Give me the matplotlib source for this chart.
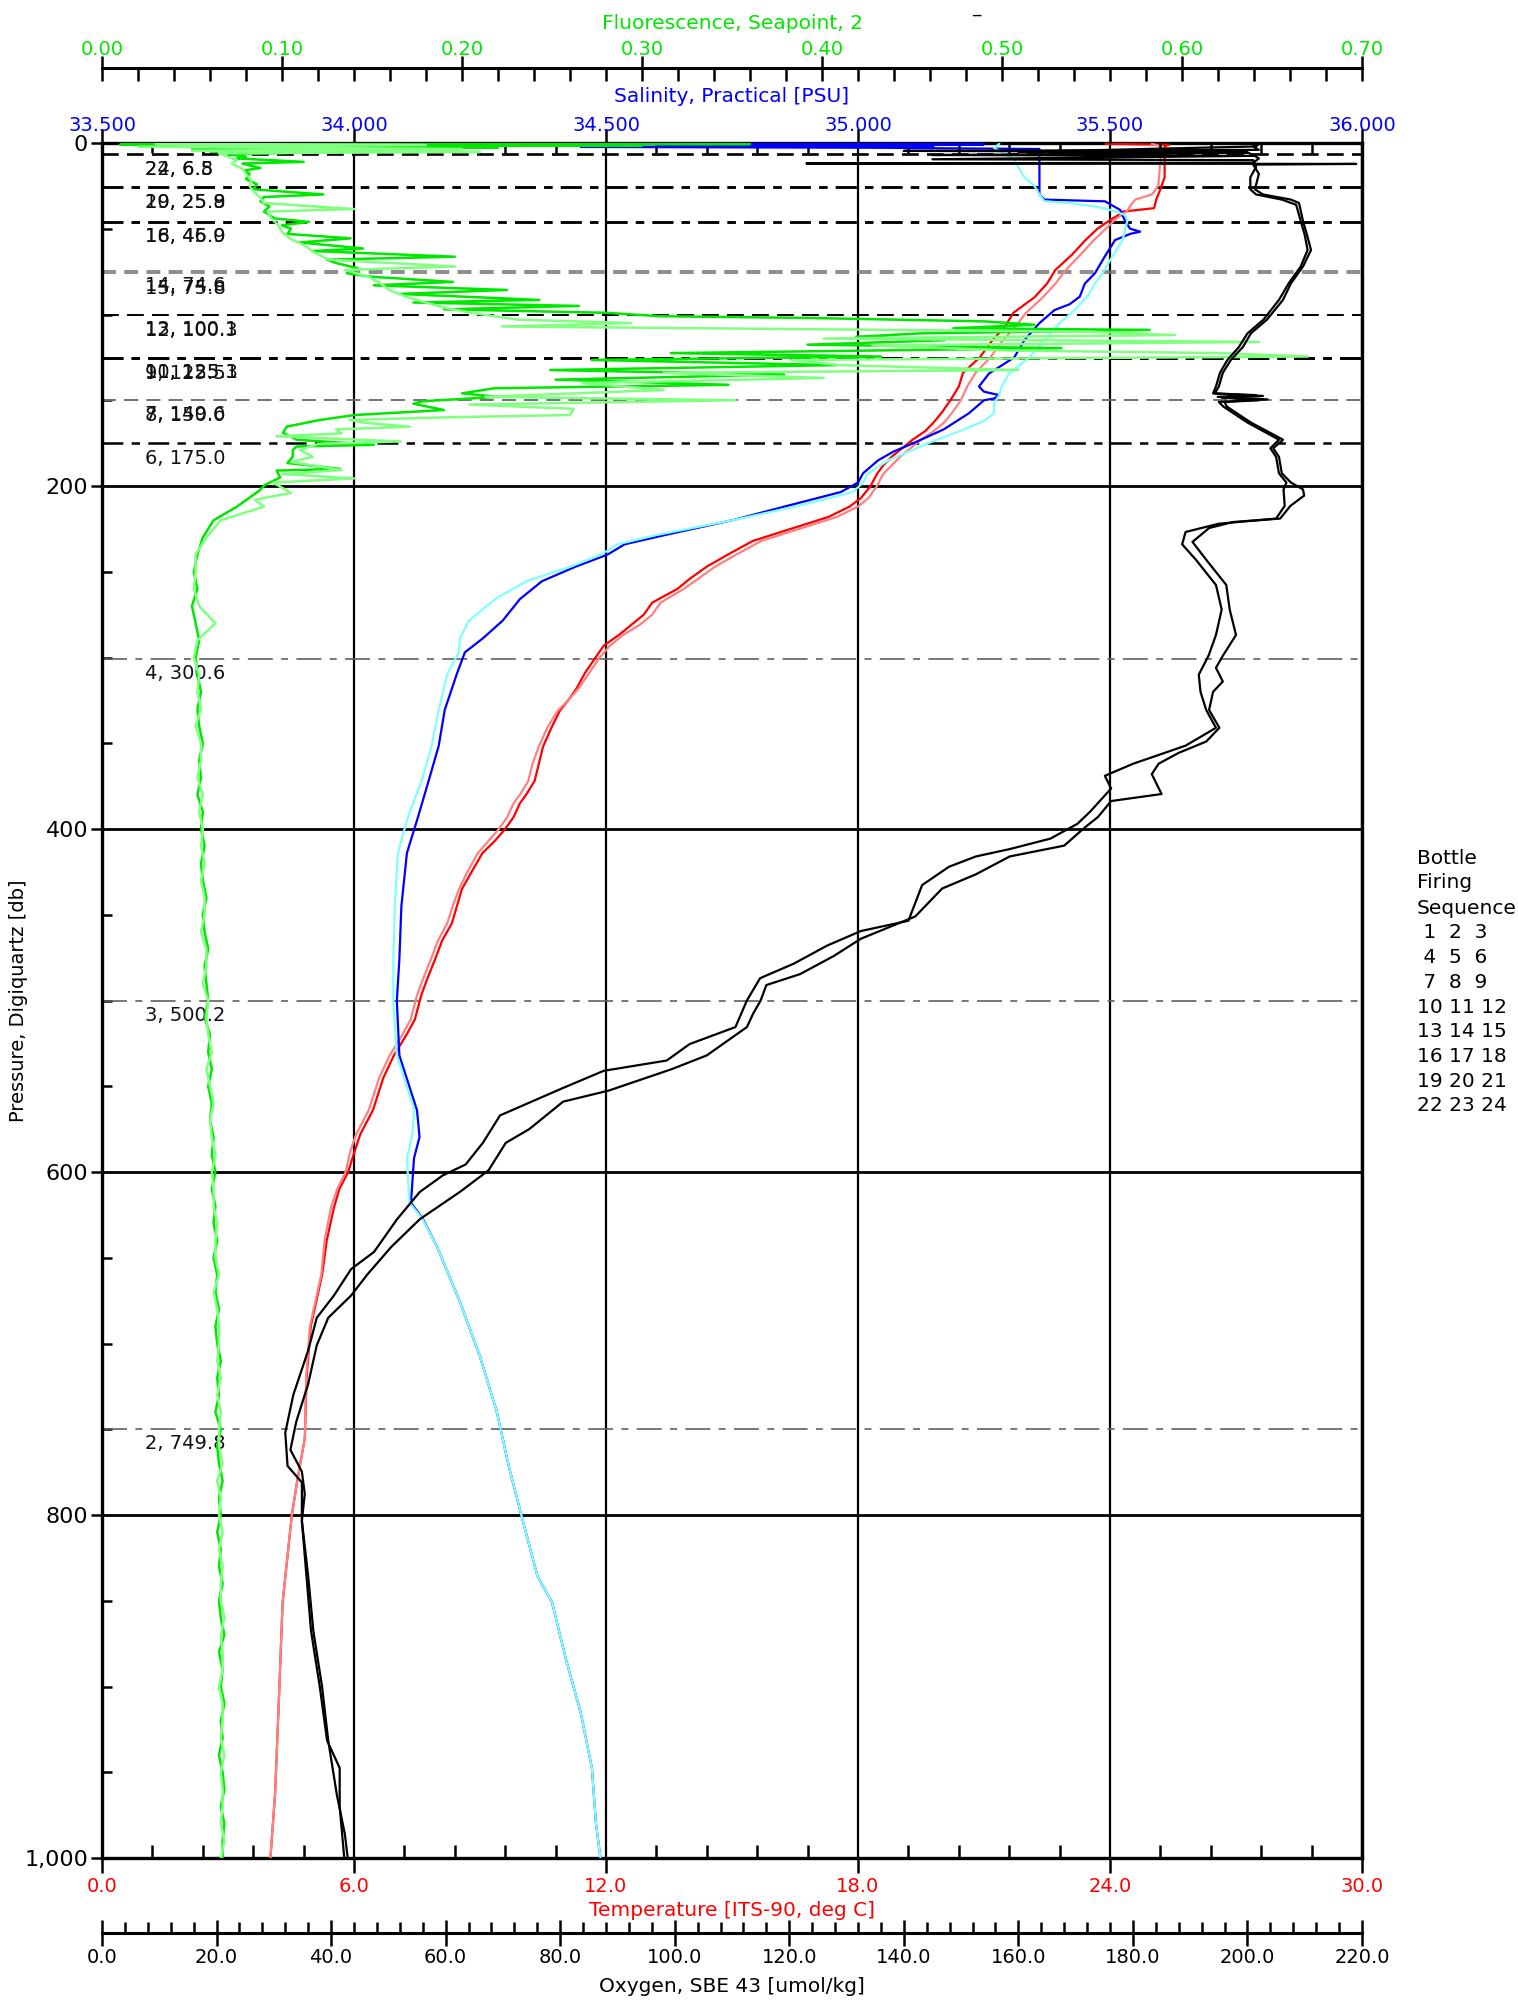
import matplotlib
matplotlib.use("Agg")
import matplotlib.pyplot as plt
from matplotlib.ticker import MultipleLocator, FormatStrFormatter, FuncFormatter

plt.rcParams['font.family'] = ['DejaVu Sans']
plt.rcParams['lines.scale_dashes'] = False

# ---------------- data ----------------
# temperature, two casts (dark red / light red)
temp1_p = [0.5, 1.0, 2, 10, 20, 27, 33, 38, 40, 42, 45, 50, 57, 65, 74, 82, 90, 99, 107, 115,
           125, 134, 142, 150, 157, 163, 168, 173, 178, 183, 188, 193, 200, 207, 212, 218, 225,
           232, 240, 247, 254, 260, 268, 275, 281, 287, 293, 300, 309, 318, 325, 331, 341, 352,
           362, 372, 380, 385, 393, 400, 407, 414, 425, 435, 445, 455, 465, 476, 487, 497, 511,
           520, 532, 545, 564, 578, 589, 600, 610, 621, 640, 660, 690, 720, 755, 780, 800, 851,
           915, 963, 1000]
temp1_v = [23.9, 25.4, 25.3, 25.3, 25.3, 25.2, 25.1, 25.05, 24.3, 24.2, 24.0, 23.7, 23.4, 23.1,
           22.7, 22.5, 22.2, 21.7, 21.5, 21.2, 20.9, 20.5, 20.4, 20.2, 20.0, 19.8, 19.6, 19.3,
           19.05, 18.8, 18.6, 18.45, 18.3, 18.07, 17.8, 17.3, 16.4, 15.5, 14.9, 14.4, 14.0, 13.7,
           13.1, 12.9, 12.6, 12.3, 11.95, 11.75, 11.5, 11.3, 11.1, 10.9, 10.7, 10.5, 10.4, 10.3,
           10.1, 9.95, 9.8, 9.6, 9.35, 9.06, 8.8, 8.57, 8.45, 8.33, 8.1, 7.93, 7.75, 7.6, 7.45,
           7.25, 6.95, 6.7, 6.45, 6.15, 6.0, 5.86, 5.65, 5.52, 5.35, 5.24, 4.97, 4.87, 4.83, 4.65,
           4.52, 4.3, 4.2, 4.12, 4.01]
temp2_p = [0.5, 2, 10, 25, 30, 33, 36, 40, 44, 50, 57, 65, 74, 82, 90, 99, 107, 115, 125, 134,
           142, 150, 157, 163, 168, 173, 178, 183, 188, 193, 200, 207, 212, 218, 225, 232, 240,
           247, 254, 260, 268, 275, 281, 287, 293, 300, 309, 318, 325, 331, 341, 352, 362, 372,
           380, 385, 393, 400, 407, 414, 425, 435, 445, 455, 465, 476, 487, 497, 511, 520, 532,
           545, 564, 578, 589, 600, 610, 621, 640, 660, 690, 720, 755, 780, 800, 851, 915, 963,
           1000]
temp2_v = [25.0, 25.2, 25.2, 25.15, 25.0, 24.6, 24.5, 24.4, 24.15, 23.9, 23.6, 23.3, 22.95, 22.7,
           22.4, 22.0, 21.75, 21.45, 21.15, 20.8, 20.6, 20.45, 20.25, 20.05, 19.8, 19.5, 19.25,
           19.0, 18.8, 18.6, 18.45, 18.25, 18.0, 17.5, 16.6, 15.7, 15.1, 14.6, 14.2, 13.85, 13.3,
           13.1, 12.8, 12.4, 12.1, 11.85, 11.6, 11.35, 11.1, 10.85, 10.6, 10.4, 10.25, 10.15,
           9.95, 9.8, 9.65, 9.45, 9.2, 8.95, 8.7, 8.5, 8.35, 8.22, 8.0, 7.83, 7.65, 7.5, 7.35,
           7.15, 6.85, 6.6, 6.35, 6.05, 5.9, 5.8, 5.6, 5.45, 5.3, 5.22, 4.95, 4.86, 4.83, 4.65,
           4.52, 4.3, 4.2, 4.12, 4.01]

# salinity, two casts (blue / cyan)
sal1_p = [0.3, 0.8, 1.3, 1.8, 2.3, 2.8, 3.5, 10, 20, 30, 33, 34, 39, 45.5, 50, 51.7, 53, 56.6, 66,
          76, 82, 89.6, 94, 97.4, 105, 115, 125, 134.4, 142, 145, 147, 149, 150, 157.6, 167, 175,
          180, 185, 192.6, 198, 203.5, 211.7, 220, 228.6, 234, 240, 247, 255.5, 266, 278.5, 289,
          297, 309.6, 330.6, 351.6, 372, 393, 414, 445, 476, 500, 532, 564, 579.6, 592, 618, 627,
          643.7, 675.6, 707.6, 739.4, 771.5, 803.5, 835.6, 851, 883.5, 915.5, 947.5, 979.6, 1000]
sal1_v = [34.10, 35.25, 34.60, 35.15, 34.45, 35.05, 35.36, 35.36, 35.36, 35.36, 35.37, 35.49,
          35.52, 35.53, 35.54, 35.56, 35.54, 35.51, 35.49, 35.47, 35.45, 35.44, 35.42, 35.39,
          35.36, 35.33, 35.31, 35.26, 35.24, 35.25, 35.28, 35.27, 35.25, 35.22, 35.17, 35.11,
          35.07, 35.04, 35.01, 35.0, 34.966, 34.858, 34.75, 34.617, 34.537, 34.503, 34.44,
          34.373, 34.329, 34.295, 34.255, 34.22, 34.204, 34.18, 34.168, 34.148, 34.127, 34.105,
          34.094, 34.09, 34.085, 34.09, 34.125, 34.13, 34.119, 34.113, 34.136, 34.165, 34.21,
          34.25, 34.283, 34.307, 34.335, 34.364, 34.393, 34.42, 34.45, 34.472, 34.48, 34.489]
sal2_p = [0.5, 3, 6, 10, 15, 20, 25, 30, 34, 35, 37, 39, 42, 45, 50, 56.6, 66, 76, 82, 89.6, 97.4,
          105, 115, 125, 134.4, 142, 147, 152, 157.6, 162, 167, 175, 180, 185, 192.6, 198, 203.5,
          211.7, 220, 228.6, 234, 240, 247, 255.5, 266, 278.5, 289, 297, 309.6, 330.6, 351.6,
          372, 393, 414, 445, 476, 500, 532, 564, 579.6, 592, 618, 627, 643.7, 675.6, 707.6,
          739.4, 771.5, 803.5, 835.6, 851, 883.5, 915.5, 947.5, 979.6, 1000]
sal2_v = [35.28, 35.27, 35.29, 35.31, 35.32, 35.33, 35.35, 35.36, 35.37, 35.42, 35.47, 35.50,
          35.53, 35.535, 35.53, 35.525, 35.505, 35.485, 35.47, 35.455, 35.43, 35.40, 35.37,
          35.34, 35.30, 35.285, 35.28, 35.27, 35.27, 35.25, 35.21, 35.14, 35.10, 35.06, 35.02,
          35.01, 34.99, 34.88, 34.75, 34.60, 34.523, 34.49, 34.43, 34.342, 34.28, 34.228, 34.21,
          34.208, 34.185, 34.168, 34.154, 34.134, 34.107, 34.087, 34.081, 34.078, 34.078, 34.085,
          34.12, 34.115, 34.105, 34.11, 34.135, 34.165, 34.21, 34.25, 34.283, 34.307, 34.335,
          34.364, 34.393, 34.42, 34.45, 34.472, 34.48, 34.489]

# fluorescence, two casts (green / light green): upper 0-212 db and deep part (every 10 db)
flu1_p = [0.2, 0.6, 1.0, 1.5, 2.0, 2.6, 3.2, 4.0, 4.8, 5.5, 6.5, 8, 9, 11, 12, 14.6, 16, 18, 21,
          24, 27, 30, 31.5, 34, 37, 40, 44, 46, 48, 50, 53, 55.6, 58, 61.5, 63, 66.3, 68, 70, 73,
          76, 78, 81, 83, 85.7, 88, 91.5, 93, 95, 97, 99, 101, 102, 104, 106, 108, 109, 111, 113,
          115, 117.6, 119.6, 122.5, 124.5, 126.5, 129.5, 132.4, 135, 138, 141, 143, 146, 148,
          150.6, 152, 155.7, 158.6, 161.5, 165.4, 169, 173, 176, 177, 179, 183, 186.6, 190, 191,
          195, 199.4, 203, 207, 212]
flu1_v = [0.02, 0.36, 0.01, 0.30, 0.04, 0.22, 0.05, 0.12, 0.06, 0.114, 0.07, 0.08, 0.075, 0.112,
          0.078, 0.088, 0.079, 0.082, 0.08, 0.086, 0.084, 0.123, 0.09, 0.088, 0.093, 0.09, 0.096,
          0.115, 0.1, 0.105, 0.103, 0.138, 0.11, 0.145, 0.117, 0.196, 0.125, 0.13, 0.142, 0.136,
          0.15, 0.195, 0.151, 0.225, 0.165, 0.243, 0.173, 0.265, 0.19, 0.28, 0.31, 0.392, 0.49,
          0.518, 0.473, 0.582, 0.455, 0.419, 0.468, 0.392, 0.533, 0.316, 0.433, 0.272, 0.408,
          0.249, 0.379, 0.252, 0.348, 0.218, 0.2, 0.22, 0.178, 0.173, 0.19, 0.1406, 0.121,
          0.1026, 0.1006, 0.108, 0.151, 0.108, 0.106, 0.106, 0.103, 0.132, 0.097, 0.099, 0.0905,
          0.087, 0.0817, 0.075]
flu1_deep = [0.062, 0.056, 0.053, 0.051, 0.053, 0.050, 0.052, 0.054, 0.052, 0.053,
             0.055, 0.053, 0.054, 0.056, 0.054, 0.055, 0.053, 0.056, 0.055, 0.057,
             0.055, 0.056, 0.058, 0.056, 0.057, 0.059, 0.057, 0.058, 0.059, 0.057,
             0.060, 0.059, 0.061, 0.059, 0.061, 0.060, 0.062, 0.061, 0.063, 0.061,
             0.063, 0.062, 0.064, 0.062, 0.064, 0.063, 0.065, 0.063, 0.064, 0.066,
             0.064, 0.065, 0.063, 0.066, 0.064, 0.065, 0.067, 0.065, 0.066, 0.064,
             0.066, 0.065, 0.067, 0.065, 0.066, 0.068, 0.065, 0.067, 0.066, 0.068,
             0.066, 0.067, 0.065, 0.067, 0.068, 0.066, 0.068, 0.067, 0.067]
flu2_p = [0.5, 1.2, 2.2, 3.5, 4.5, 5.2, 6, 8, 10, 12, 15, 18, 22, 25, 28, 32, 35, 38.5, 40, 44,
          48, 52, 56, 60, 64, 68, 72, 74, 78, 82, 86, 90, 93, 96, 99, 101, 103, 105, 107, 110,
          112, 114, 116, 118, 121, 122.5, 124.5, 126.5, 129.5, 132.4, 134, 137, 140, 144, 148,
          150, 152.5, 155, 158.6, 160, 161.5, 163, 165.4, 167, 169.3, 171, 174, 175.5, 179, 183,
          186, 190.7, 193, 195.6, 198, 204, 208, 212]
flu2_v = [0.03, 0.18, 0.02, 0.2, 0.05, 0.21, 0.065, 0.07, 0.075, 0.072, 0.078, 0.08, 0.083,
          0.082, 0.084, 0.088, 0.09, 0.14, 0.092, 0.094, 0.098, 0.1, 0.105, 0.113, 0.118, 0.126,
          0.196, 0.135, 0.148, 0.155, 0.16, 0.17, 0.18, 0.19, 0.205, 0.218, 0.231, 0.294, 0.222,
          0.549, 0.596, 0.401, 0.643, 0.428, 0.504, 0.62, 0.67, 0.383, 0.41, 0.509, 0.312, 0.401,
          0.267, 0.312, 0.213, 0.352, 0.204, 0.262, 0.26, 0.19, 0.1375, 0.145, 0.171, 0.13,
          0.133, 0.097, 0.166, 0.12, 0.11, 0.117, 0.105, 0.133, 0.1, 0.14, 0.095, 0.105, 0.085,
          0.09]
flu2_deep = [0.066, 0.058, 0.052, 0.052, 0.051, 0.054, 0.063, 0.053, 0.051, 0.054,
             0.053, 0.055, 0.052, 0.055, 0.055, 0.053, 0.056, 0.054, 0.056, 0.055,
             0.057, 0.055, 0.057, 0.057, 0.055, 0.058, 0.058, 0.056, 0.059, 0.058,
             0.059, 0.061, 0.058, 0.060, 0.062, 0.060, 0.061, 0.063, 0.061, 0.062,
             0.062, 0.064, 0.063, 0.063, 0.065, 0.062, 0.064, 0.065, 0.065, 0.064,
             0.066, 0.064, 0.066, 0.065, 0.065, 0.067, 0.064, 0.066, 0.065, 0.067,
             0.065, 0.067, 0.066, 0.066, 0.068, 0.066, 0.067, 0.067, 0.065, 0.067,
             0.067, 0.066, 0.068, 0.066, 0.067, 0.067, 0.066, 0.068, 0.066]
flu_deep_p = list(range(220, 1001, 10))

# oxygen, two casts (both black)
oxy1_p = [0.5, 2, 4, 4.6, 5.0, 5.5, 7, 9, 11.5, 11.9, 12.2, 12.6, 18, 27, 30, 33, 35, 45.5, 53.6,
          62.4, 72, 81.8, 91.5, 103, 111, 119, 126.5, 134, 142, 146, 147.5, 148.5, 150, 151,
          153.7, 163, 173, 178, 183, 192.6, 198, 202, 205.6, 211.6, 219, 221, 224.5, 232.6, 243,
          257.7, 272, 286.9, 299, 306, 314, 320, 330.6, 341, 349, 355.6, 361.9, 368, 379.6,
          383.7, 393, 399.4, 409.7, 416, 426.4, 434.7, 451, 464, 474, 484.6, 491, 500, 507.6,
          515.5, 532, 540, 552.5, 559, 575, 583, 599, 611.6, 627.5, 643.7, 659.5, 672, 685, 701,
          723.6, 745.8, 762, 774.7, 787.6, 803.5, 835.6, 867.6, 899.5, 931.5, 963, 986, 1000]
oxy1_v = [201.5, 201, 202, 140, 185, 200, 201, 202, 201, 123, 219, 201, 202, 201.3, 202.7,
          207.6, 209, 209.7, 210.4, 211.1, 209.7, 207.6, 206.2, 203.4, 200.6, 199.2, 197.1,
          195.7, 195, 194.3, 202.7, 195.5, 202, 196, 196.4, 200.6, 206.2, 204.5, 205.5, 206,
          207.6, 209.7, 209.9, 207.5, 205.7, 197.5, 193.3, 190.4, 192.8, 196.3, 196.9, 198,
          195.7, 194.5, 195.7, 194, 193.3, 195.1, 192.8, 188, 184.5, 183.3, 185, 176.2, 173.9,
          171.5, 168, 158.5, 152.6, 146.7, 142, 132.5, 127.8, 121.9, 116, 115, 113.7, 112.6,
          105.6, 99.5, 88.5, 80.5, 74.6, 70.5, 67.5, 62.5, 55.5, 50.5, 46.4, 43.5, 39.5, 37.5,
          36, 33.9, 32.9, 34.9, 35.4, 34.9, 36, 36.9, 38.4, 39.5, 41, 42.4, 42.9]
oxy2_p = [0.5, 2, 5.2, 5.6, 6.5, 7, 7.5, 9.5, 10, 14, 20, 27, 30, 33, 36, 45.5, 53.6, 62.4, 72,
          81.8, 91.5, 103, 111, 119, 126.5, 134, 142, 146, 147, 148, 149.5, 151, 153.7, 163, 173,
          178, 183, 192.6, 198, 202, 211.6, 219, 222, 226.8, 234, 243, 257.7, 272, 286.9, 299,
          310, 320, 330.6, 341, 351.4, 362, 369, 376.4, 390, 397, 405.6, 411.7, 416, 422, 432.7,
          453.5, 459.5, 468, 478.5, 487, 500, 515.5, 525.4, 535, 541, 551, 567, 583, 595.6, 602,
          611.6, 627.6, 646.6, 656.6, 672, 685, 704, 730, 752, 771.4, 781, 803.5, 835.6, 867.6,
          899.5, 931.5, 947.5, 970, 1000]
oxy2_v = [202, 201.5, 160, 200, 170, 145, 201, 145, 201, 201.5, 200.5, 200.5, 201.5, 206, 208.5,
          209.3, 210, 210.5, 209.3, 207.2, 205.5, 202.8, 200, 198.5, 196.5, 195.2, 194.5, 194,
          201.5, 194.8, 203.5, 195, 195.8, 200, 205.5, 204, 205, 205.5, 206.8, 206.3, 206.5, 205,
          195, 189.2, 188.6, 191, 194.5, 195.5, 194.5, 193.2, 191.5, 191.8, 192.8, 194.5, 189.2,
          180, 175.1, 176.2, 172.5, 170.3, 165.6, 158.5, 152.6, 147.9, 143.2, 140.8, 132.5,
          126.6, 120.8, 114.9, 112.6, 110.6, 102.6, 98.6, 87.6, 80.5, 69.5, 66.5, 63.5, 59.5,
          55.5, 51.5, 47.5, 43.5, 40.5, 37.5, 36, 33.4, 32, 32.4, 34.9, 34.9, 35.7, 36.5, 38.0,
          39.3, 41.5, 41.5, 42.3]

# bottle firings: number, pressure
bottle_num = [24, 22, 19, 20, 16, 18, 14, 15, 13, 12, 11, 10, 9, 7, 8, 6, 4, 3, 2]
bottle_p = [6.5, 6.8, 25.9, 25.8, 45.9, 46.0, 74.6, 75.8, 100.1, 100.3, 125.1, 125.3, 125.5,
            149.6, 150.0, 175.0, 300.6, 500.2, 749.8]

sequence_rows = [' 1  2  3', ' 4  5  6', ' 7  8  9', '10 11 12', '13 14 15', '16 17 18',
                 '19 20 21', '22 23 24']

# ---------------- figure ----------------
W, H = 1518, 2007
L, R, T, B = 102, 1362, 143, 1858
fig = plt.figure(figsize=(W / 100, H / 100), dpi=100)
ax = fig.add_axes([L / W, 1 - B / H, (R - L) / W, (B - T) / H])

GREEN = '#00e800'
LGREEN = '#80ff80'
RED = '#ff0000'
LRED = '#ff8080'
BLUE = '#0000ff'
CYAN = '#80ffff'

# main axes: temperature (bottom) and pressure (left)
ax.set_xlim(0, 30)
ax.set_ylim(1000, 0)
for s in ax.spines.values():
    s.set_linewidth(2.4)
ax.xaxis.set_major_locator(MultipleLocator(6))
ax.xaxis.set_minor_locator(MultipleLocator(1.2))
ax.xaxis.set_major_formatter(FormatStrFormatter('%.1f'))
ax.yaxis.set_major_locator(MultipleLocator(200))
ax.yaxis.set_minor_locator(MultipleLocator(50))
ax.yaxis.set_major_formatter(FuncFormatter(lambda v, pos: f"{int(v):,}"))
ax.tick_params(axis='x', which='major', direction='out', length=11, width=1.8,
               labelsize=14, labelcolor=RED, pad=3)
ax.tick_params(axis='x', which='minor', direction='in', length=9.5, width=1.8)
ax.tick_params(axis='y', which='major', direction='out', length=8, width=1.8,
               labelsize=16, pad=2)
ax.tick_params(axis='y', which='minor', direction='in', length=7, width=1.8)
ax.tick_params(top=False, right=False, which='both')
ax.grid(True, which='major', axis='x', color='k', lw=1.6)
ax.grid(True, which='major', axis='y', color='k', lw=2.0)
ax.set_axisbelow(True)
ax.set_xlabel('Temperature [ITS-90, deg C]', color=RED, fontsize=14.5)
ax.xaxis.set_label_coords(0.5, -(1910 - B) / (B - T))
ax.xaxis.label.set_va('center')
ax.set_ylabel('Pressure, Digiquartz [db]', fontsize=14)
ax.yaxis.set_label_coords(-(L - 19) / (R - L), 0.5)
ax.yaxis.label.set_va('center')

# bottle lines and labels
for n, p in zip(bottle_num, bottle_p):
    if p > 250:
        ax.axhline(p, color='#606060', lw=1.2, dashes=(18, 6, 5, 6), zorder=1)
    elif p in (74.6, 75.8, 149.6, 150.0):
        ax.axhline(p, color='#6e6e6e', lw=1.1, dashes=(10, 6), zorder=1)
    elif p in (6.5, 6.8, 100.1, 100.3):
        ax.axhline(p, color='k', lw=1.2, dashes=(12, 6), zorder=1)
    else:
        ax.axhline(p, color='k', lw=1.8, dashes=(15, 6, 6, 6), zorder=1)
    ax.annotate(f"{n}, {p:.1f}", xy=(0.034, p), xycoords=('axes fraction', 'data'),
                xytext=(0, -4), textcoords='offset points', va='top', ha='left',
                fontsize=14, color='#111111', zorder=2)

ax.plot(temp1_v, temp1_p, color=RED, lw=1.6, zorder=3)
ax.plot(temp2_v, temp2_p, color=LRED, lw=1.6, zorder=3)

# salinity axis (top)
ax_s = ax.twiny()
ax_s.set_xlim(33.5, 36.0)
for k, s in ax_s.spines.items():
    s.set_visible(False)
ax_s.xaxis.set_major_locator(MultipleLocator(0.5))
ax_s.xaxis.set_minor_locator(MultipleLocator(0.1))
ax_s.xaxis.set_major_formatter(FormatStrFormatter('%.3f'))
ax_s.tick_params(axis='x', which='major', direction='out', length=10, width=1.8,
                 labelsize=14, labelcolor=BLUE, pad=-4)
ax_s.tick_params(axis='x', which='minor', direction='in', length=7, width=1.8)
ax_s.set_xlabel('Salinity, Practical [PSU]', color=BLUE, fontsize=14.5)
ax_s.xaxis.set_label_coords(0.5, 1 + (T - 96) / (B - T))
ax_s.xaxis.label.set_va('center')
ax_s.plot(sal1_v, sal1_p, color=BLUE, lw=1.6)
ax_s.plot(sal2_v, sal2_p, color=CYAN, lw=1.6)

# fluorescence axis (top, offset)
ax_f = ax.twiny()
ax_f.set_xlim(0, 0.7)
for k, s in ax_f.spines.items():
    s.set_visible(k == 'top')
ax_f.spines['top'].set_position(('outward', 54))
ax_f.spines['top'].set_linewidth(2.2)
ax_f.xaxis.set_major_locator(MultipleLocator(0.1))
ax_f.xaxis.set_minor_locator(MultipleLocator(0.02))
ax_f.xaxis.set_major_formatter(FormatStrFormatter('%.2f'))
ax_f.tick_params(axis='x', which='major', direction='inout', length=18, width=1.8,
                 labelsize=14, labelcolor=GREEN, pad=-2.5)
ax_f.tick_params(axis='x', which='minor', direction='in', length=9.5, width=1.8)
ax_f.set_xlabel('Fluorescence, Seapoint, 2', color=GREEN, fontsize=14.5)
ax_f.xaxis.set_label_coords(0.5, 1 + (T - 23) / (B - T))
ax_f.xaxis.label.set_va('center')
ax_f.plot(flu1_v + flu1_deep, flu1_p + flu_deep_p, color=GREEN, lw=1.8)
ax_f.plot(flu2_v + flu2_deep, flu2_p + flu_deep_p, color=LGREEN, lw=1.8)

# oxygen axis (bottom, offset)
ax_o = ax.twiny()
ax_o.set_xlim(0, 220)
ax_o.xaxis.set_ticks_position('bottom')
ax_o.xaxis.set_label_position('bottom')
for k, s in ax_o.spines.items():
    s.set_visible(k == 'bottom')
ax_o.spines['bottom'].set_position(('outward', 54))
ax_o.spines['bottom'].set_linewidth(2.2)
ax_o.xaxis.set_major_locator(MultipleLocator(20))
ax_o.xaxis.set_minor_locator(MultipleLocator(4))
ax_o.xaxis.set_major_formatter(FormatStrFormatter('%.1f'))
ax_o.tick_params(axis='x', which='major', direction='inout', length=19, width=1.8,
                 labelsize=14, pad=1)
ax_o.tick_params(axis='x', which='minor', direction='in', length=8, width=1.8)
ax_o.set_xlabel('Oxygen, SBE 43 [umol/kg]', fontsize=14.5)
ax_o.xaxis.set_label_coords(0.5, -(1986 - B) / (B - T))
ax_o.xaxis.label.set_va('center')
ax_o.plot(oxy1_v, oxy1_p, color='k', lw=1.6)
ax_o.plot(oxy2_v, oxy2_p, color='k', lw=1.6)

# bottle firing sequence legend
fig.text(1417 / W, 1 - 859 / H, 'Bottle', fontsize=14.5, va='center')
fig.text(1417 / W, 1 - 883 / H, 'Firing', fontsize=14.5, va='center')
fig.text(1417 / W, 1 - 908 / H, 'Sequence', fontsize=14.5, va='center')
for i, row in enumerate(sequence_rows):
    fig.text(1417 / W, 1 - (933 + i * 24.7) / H, row, fontsize=14.5, va='center')

fig.text(976 / W, 1 - 16 / H, '_', fontsize=12, ha='center', va='bottom')

fig.savefig('out.png', dpi=100)
